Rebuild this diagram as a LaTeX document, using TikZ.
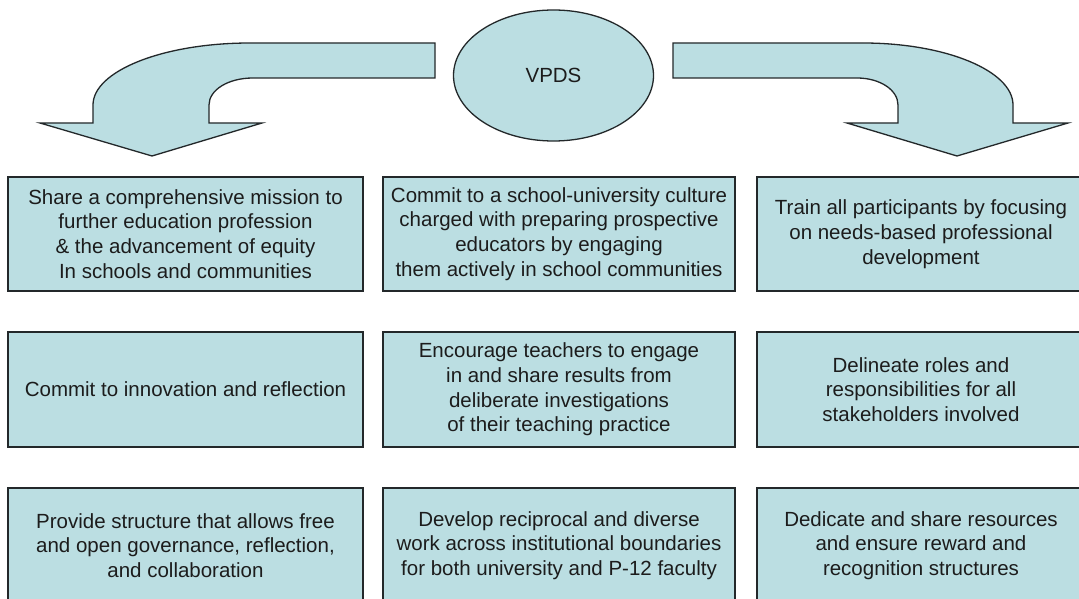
\documentclass[tikz,border=0pt]{standalone}
\usepackage{fontspec}
\setmainfont{Liberation Sans}
\usetikzlibrary{shapes.geometric}
\definecolor{boxfill}{RGB}{187,222,226}
\definecolor{edge}{RGB}{35,40,42}
\definecolor{txt}{RGB}{28,28,28}
\begin{document}
\begin{tikzpicture}[x=1pt,y=-1pt,
  box/.style={draw=edge, fill=boxfill, line width=1.3pt, align=center, inner sep=0pt, text=txt,
    font=\fontsize{20.5}{24.7}\selectfont},
  blockarrow/.style={draw=edge, fill=boxfill, line width=1.3pt, line join=miter}]
\clip (0,0) rectangle (1079,599);
\fill[white] (0,0) rectangle (1079,599);

% centre ellipse
\node[ellipse, draw=edge, fill=boxfill, line width=1.3pt, inner sep=0pt, text=txt,
  minimum width=200pt, minimum height=131pt, font=\fontsize{20.5}{24.7}\selectfont] (vpds) at (553.5,75.5) {VPDS};

% left curved block arrow
\draw[blockarrow] (435,43) -- (250,43) .. controls (163,43) and (93,71) .. (93,105)
  -- (93,123) -- (40,123) -- (152,156) -- (262,123) -- (209,123) -- (209,105)
  .. controls (209,90) and (228,78) .. (253,78) -- (435,78) -- cycle;

% right curved block arrow
\draw[blockarrow] (673,43) -- (863,43) .. controls (946,43) and (1013,71) .. (1013,105)
  -- (1013,123) -- (1068,123) -- (957,156) -- (847,123) -- (898,123) -- (898,105)
  .. controls (898,90) and (880,78) .. (857,78) -- (673,78) -- cycle;

% row 1
\node[box, minimum width=355pt, minimum height=114pt] (b11) at (185.5,234)
  {Share a comprehensive mission to\\further education profession\\\& the advancement of equity\\In schools and communities};
\node[box, minimum width=352pt, minimum height=114pt] (b12) at (559,234)
  {Commit to a school-university culture\\charged with preparing prospective\\educators by engaging\\them actively in school communities};
\node[box, minimum width=328pt, minimum height=114pt] (b13) at (921,234)
  {Train all participants by focusing\\on needs-based professional\\development};

% row 2
\node[box, minimum width=355pt, minimum height=115pt] (b21) at (185.5,389.5)
  {Commit to innovation and reflection};
\node[box, minimum width=352pt, minimum height=115pt] (b22) at (559,389.5)
  {Encourage teachers to engage\\in and share results from\\deliberate investigations\\of their teaching practice};
\node[box, minimum width=328pt, minimum height=115pt] (b23) at (921,389.5)
  {Delineate roles and\\responsibilities for all\\stakeholders involved};

% row 3
\node[box, minimum width=355pt, minimum height=115pt] (b31) at (185.5,545.5)
  {Provide structure that allows free\\and open governance, reflection,\\and collaboration};
\node[box, minimum width=352pt, minimum height=115pt] (b32) at (559,545.5)
  {Develop reciprocal and diverse\\work across institutional boundaries\\for both university and P-12 faculty};
\node[box, minimum width=328pt, minimum height=115pt] (b33) at (921,545.5)
  {Dedicate and share resources\\and ensure reward and\\recognition structures};
\end{tikzpicture}
\end{document}
